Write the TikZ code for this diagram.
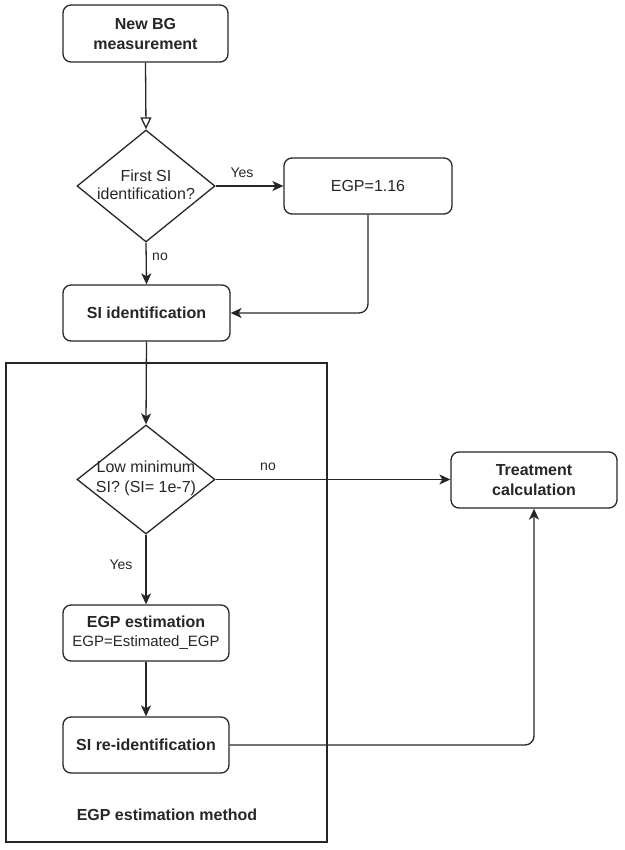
\documentclass[tikz,border=0pt]{standalone}
\usepackage{fontspec}
\setmainfont{Liberation Sans}
\usetikzlibrary{shapes.geometric,arrows.meta}
\definecolor{ink}{gray}{0.15}
\tikzset{
  box/.style={draw=ink, line width=1.3pt, rounded corners=8pt, minimum width=166pt, minimum height=56pt, inner sep=0pt, align=center, text=ink, font=\fontsize{16}{20}\selectfont},
  boldbox/.style={box, font=\fontsize{16}{20}\selectfont\bfseries},
  dia/.style={draw=ink, line width=1.3pt, diamond, minimum width=138pt, minimum height=112pt, inner sep=0pt},
  diatext/.style={align=center, text=ink, font=\fontsize{16}{18}\selectfont, inner sep=0pt},
  conn/.style={draw=ink, line width=1.3pt, -{Stealth[length=11pt,width=10pt,inset=3pt]}},
  lbl/.style={text=ink, font=\fontsize{14}{16}\selectfont, inner sep=0pt},
}
\begin{document}
\begin{tikzpicture}[x=1pt,y=-1pt]
\useasboundingbox (0,0) rectangle (624,850);
% frame
\node[draw=ink, line width=1.3pt, minimum width=321pt, minimum height=479pt, inner sep=0pt] (frame) at (166.5,602.5) {};
\node[lbl, font=\fontsize{16}{18}\selectfont\bfseries] (framelbl) at (167,815) {EGP estimation method};
% nodes
\node[boldbox, minimum width=165pt, minimum height=57pt] (bg) at (145.5,33.5) {New BG\\measurement};
\node[dia] (d1) at (146,186) {};
\node[diatext] (d1t) at (146,185) {First SI\\identification?};
\node[box, minimum width=168pt] (egp) at (368,186) {EGP=1.16};
\node[boldbox, minimum width=167pt] (si) at (146.5,313) {SI identification};
\node[dia, minimum height=109pt] (d2) at (146,479.5) {};
\node[diatext, font=\fontsize{16}{20}\selectfont] (d2t) at (146,478) {Low minimum\\SI? (SI= 1e-7)};
\node[boldbox] (tr) at (534,480) {Treatment\\calculation};
\node[box, font=\fontsize{16}{19}\selectfont] (est) at (146,633) {\textbf{EGP estimation}\\\fontsize{15}{18}\selectfont EGP=Estimated\_EGP};
\node[boldbox] (sire) at (146,745) {SI re-identification};
% connectors
\draw[draw=ink, line width=1.3pt, -{Triangle[open,length=12pt,width=11pt]}] (bg.south) -- (d1.north);
\draw[conn] (d1.east) -- (egp.west);
\node[lbl] (yes1) at (242,173) {Yes};
\draw[conn] (d1.south) -- (si.north);
\node[lbl] (no1) at (160,257) {no};
\draw[conn, rounded corners=9pt] (egp.south) -- (egp.south |- si.east) -- (si.east);
\draw[conn] (si.south) -- (d2.north);
\draw[conn] (d2.east) -- (d2.east -| tr.west);
\node[lbl] (no2) at (268,467) {no};
\draw[conn] (d2.south) -- (est.north);
\node[lbl] (yes2) at (121,565) {Yes};
\draw[conn] (est.south) -- (sire.north);
\draw[conn, rounded corners=9pt] (sire.east) -- (sire.east -| tr.south) -- (tr.south);
\end{tikzpicture}
\end{document}
